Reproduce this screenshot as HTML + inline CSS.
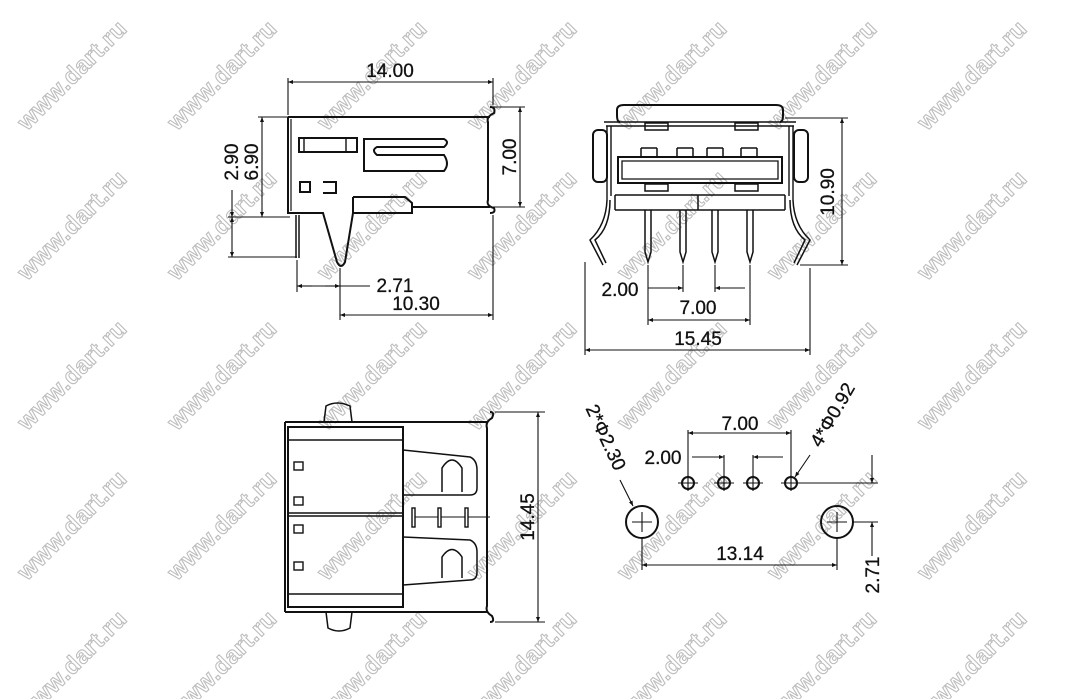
<!DOCTYPE html>
<html><head><meta charset="utf-8"><style>
html,body{margin:0;padding:0;background:#fff;}
svg{display:block;}
.wm{font-family:"Liberation Sans",sans-serif;font-weight:bold;font-size:24px;fill:#fff;stroke:#bdbdbd;stroke-width:1.1;letter-spacing:0.5px;}
.t{font-family:"Liberation Sans",sans-serif;font-size:19px;fill:#111;stroke:#111;stroke-width:0.3;}
</style></head><body>
<svg width="1081" height="699" viewBox="0 0 1081 699" xmlns="http://www.w3.org/2000/svg">
<defs>
<marker id="a" viewBox="0 0 10 10" refX="10" refY="5" markerWidth="9" markerHeight="5" orient="auto-start-reverse" markerUnits="userSpaceOnUse"><path d="M0,1 L10,5 L0,9z" fill="#111"/></marker>
</defs>
<g>
<text class="wm" transform="translate(72,75) rotate(-45)" text-anchor="middle" dy="8">www.dart.ru</text>
<text class="wm" transform="translate(222,75) rotate(-45)" text-anchor="middle" dy="8">www.dart.ru</text>
<text class="wm" transform="translate(372,75) rotate(-45)" text-anchor="middle" dy="8">www.dart.ru</text>
<text class="wm" transform="translate(522,75) rotate(-45)" text-anchor="middle" dy="8">www.dart.ru</text>
<text class="wm" transform="translate(672,75) rotate(-45)" text-anchor="middle" dy="8">www.dart.ru</text>
<text class="wm" transform="translate(822,75) rotate(-45)" text-anchor="middle" dy="8">www.dart.ru</text>
<text class="wm" transform="translate(972,75) rotate(-45)" text-anchor="middle" dy="8">www.dart.ru</text>
<text class="wm" transform="translate(72,225) rotate(-45)" text-anchor="middle" dy="8">www.dart.ru</text>
<text class="wm" transform="translate(222,225) rotate(-45)" text-anchor="middle" dy="8">www.dart.ru</text>
<text class="wm" transform="translate(372,225) rotate(-45)" text-anchor="middle" dy="8">www.dart.ru</text>
<text class="wm" transform="translate(522,225) rotate(-45)" text-anchor="middle" dy="8">www.dart.ru</text>
<text class="wm" transform="translate(672,225) rotate(-45)" text-anchor="middle" dy="8">www.dart.ru</text>
<text class="wm" transform="translate(822,225) rotate(-45)" text-anchor="middle" dy="8">www.dart.ru</text>
<text class="wm" transform="translate(972,225) rotate(-45)" text-anchor="middle" dy="8">www.dart.ru</text>
<text class="wm" transform="translate(72,375) rotate(-45)" text-anchor="middle" dy="8">www.dart.ru</text>
<text class="wm" transform="translate(222,375) rotate(-45)" text-anchor="middle" dy="8">www.dart.ru</text>
<text class="wm" transform="translate(372,375) rotate(-45)" text-anchor="middle" dy="8">www.dart.ru</text>
<text class="wm" transform="translate(522,375) rotate(-45)" text-anchor="middle" dy="8">www.dart.ru</text>
<text class="wm" transform="translate(672,375) rotate(-45)" text-anchor="middle" dy="8">www.dart.ru</text>
<text class="wm" transform="translate(822,375) rotate(-45)" text-anchor="middle" dy="8">www.dart.ru</text>
<text class="wm" transform="translate(972,375) rotate(-45)" text-anchor="middle" dy="8">www.dart.ru</text>
<text class="wm" transform="translate(72,525) rotate(-45)" text-anchor="middle" dy="8">www.dart.ru</text>
<text class="wm" transform="translate(222,525) rotate(-45)" text-anchor="middle" dy="8">www.dart.ru</text>
<text class="wm" transform="translate(372,525) rotate(-45)" text-anchor="middle" dy="8">www.dart.ru</text>
<text class="wm" transform="translate(522,525) rotate(-45)" text-anchor="middle" dy="8">www.dart.ru</text>
<text class="wm" transform="translate(672,525) rotate(-45)" text-anchor="middle" dy="8">www.dart.ru</text>
<text class="wm" transform="translate(822,525) rotate(-45)" text-anchor="middle" dy="8">www.dart.ru</text>
<text class="wm" transform="translate(972,525) rotate(-45)" text-anchor="middle" dy="8">www.dart.ru</text>
<text class="wm" transform="translate(72,665) rotate(-45)" text-anchor="middle" dy="8">www.dart.ru</text>
<text class="wm" transform="translate(222,665) rotate(-45)" text-anchor="middle" dy="8">www.dart.ru</text>
<text class="wm" transform="translate(372,665) rotate(-45)" text-anchor="middle" dy="8">www.dart.ru</text>
<text class="wm" transform="translate(522,665) rotate(-45)" text-anchor="middle" dy="8">www.dart.ru</text>
<text class="wm" transform="translate(672,665) rotate(-45)" text-anchor="middle" dy="8">www.dart.ru</text>
<text class="wm" transform="translate(822,665) rotate(-45)" text-anchor="middle" dy="8">www.dart.ru</text>
<text class="wm" transform="translate(972,665) rotate(-45)" text-anchor="middle" dy="8">www.dart.ru</text>
</g>

<g fill="none" stroke="#111" stroke-width="2">
<path d="M288,117 H490"/>
<path d="M288,117 V213 H323 L337,262 Q341,270 345,262 L353,213 V197"/>
<path d="M291,119 V211" stroke-width="1.2"/>
<path d="M353,197 H405 L412,203 V213 H353"/>
<path d="M412,207 H490"/>
<path d="M490,107 Q496,107 494,113 Q486,117 488,122 V200 Q486,206 494,208 Q496,213 490,213" />
<path d="M296,215 V258 M299,215 V258" stroke-width="1.5"/>
<rect x="299" y="138" width="58" height="14"/>
<path d="M304,138 V152 M346,138 V152" stroke-width="1.4"/>
<path d="M364,139 H444 Q450,142 444,147 H377 Q371,150 377,155 H444 Q450,164 444,171 H364 Z"/>
<rect x="300" y="182" width="10" height="10"/>
<path d="M323,182 H336 V193 H323"/>
<path d="M288,78 V115 M493,78 V105" stroke-width="1.1"/>
<path d="M288,82 H493" stroke-width="1.1" marker-start="url(#a)" marker-end="url(#a)"/>
<path d="M258,117 H288 M228,217 H290 M228,257 H297" stroke-width="1.1"/>
<path d="M262,117 V217" stroke-width="1.1" marker-start="url(#a)" marker-end="url(#a)"/>
<path d="M232,190 V217" stroke-width="1.1" marker-end="url(#a)"/>
<path d="M232,217 V257" stroke-width="1.1" marker-start="url(#a)" marker-end="url(#a)"/>
<path d="M297,260 V292 M340,268 V320 M493,215 V320" stroke-width="1.1"/>
<path d="M297,286 H370" stroke-width="1.1"/>
<path d="M312,286 H297" stroke-width="1.1" marker-end="url(#a)"/>
<path d="M325,286 H340" stroke-width="1.1" marker-end="url(#a)"/>
<path d="M340,315 H493" stroke-width="1.1" marker-start="url(#a)" marker-end="url(#a)"/>
<path d="M493,107 H525 M493,207 H525" stroke-width="1.1"/>
<path d="M520,107 V207" stroke-width="1.1" marker-start="url(#a)" marker-end="url(#a)"/>

<path d="M620,122 Q617,122 617,115 V110 Q617,105 624,105 H776 Q783,105 783,110 V115 Q783,122 780,122"/>
<path d="M604,122 H796 M606,126 H794" stroke-width="1.4"/>
<path d="M607,126 V200 M793,126 V200 M611,126 V196 M789,126 V196" stroke-width="1.4"/>
<rect x="593" y="130" width="14" height="52" rx="5"/>
<rect x="794" y="130" width="14" height="52" rx="5"/>
<rect x="618" y="157" width="164" height="26"/>
<path d="M622,161 H778 V179 H622 Z" stroke-width="1.3"/>
<path d="M641,148 V157 M657,148 V157 M641,148 H657 M677,148 H693 M677,148 V157 M693,148 V157 M707,148 H723 M707,148 V157 M723,148 V157 M741,148 H757 M741,148 V157 M757,148 V157" stroke-width="1.5"/>
<rect x="645" y="123" width="23" height="7" stroke-width="1.5"/>
<rect x="735" y="123" width="23" height="7" stroke-width="1.5"/>
<rect x="645" y="184" width="23" height="7" stroke-width="1.5"/>
<rect x="735" y="184" width="23" height="7" stroke-width="1.5"/>
<path d="M615,195 H785 M615,210 H785 M615,195 V210 M785,195 V210 M698,195 V210" stroke-width="1.5"/>
<path d="M645,210 V252 L648,262 L651,252 V210 M680,210 V252 L683,262 L686,252 V210 M712,210 V252 L715,262 L718,252 V210 M747,210 V252 L750,262 L753,252 V210" stroke-width="1.5"/>
<path d="M607,200 Q606,225 590,240 L603,265 M610,200 Q610,228 595,240 L606,263" stroke-width="1.5"/>
<path d="M793,200 Q794,225 810,240 L797,265 M790,200 Q790,228 805,240 L794,263" stroke-width="1.5"/>
<path d="M785,118 H848 M800,265 H848" stroke-width="1.1"/>
<path d="M842,118 V265" stroke-width="1.1" marker-start="url(#a)" marker-end="url(#a)"/>
<path d="M648,265 V325 M683,265 V292 M715,265 V292 M750,265 V325 M585,262 V355 M810,268 V355" stroke-width="1.1"/>
<path d="M648,288 H683" stroke-width="1.1" marker-end="url(#a)"/>
<path d="M745,288 H715" stroke-width="1.1" marker-end="url(#a)"/>
<path d="M648,320 H750" stroke-width="1.1" marker-start="url(#a)" marker-end="url(#a)"/>
<path d="M585,350 H810" stroke-width="1.1" marker-start="url(#a)" marker-end="url(#a)"/>

<path d="M285,422 H488 M285,612 H488 M285,422 V612" />
<rect x="288" y="427" width="115" height="180"/>
<path d="M288,440 H403 M288,513 H403 M288,516 H403 M288,594 H403" stroke-width="1.4"/>
<rect x="294" y="462" width="9" height="8" stroke-width="1.4"/>
<rect x="294" y="497" width="9" height="8" stroke-width="1.4"/>
<rect x="294" y="525" width="9" height="8" stroke-width="1.4"/>
<rect x="294" y="562" width="9" height="8" stroke-width="1.4"/>
<path d="M324,422 L326,406 Q337,400 350,406 L352,422 M326,612 L328,628 Q339,634 350,628 L352,612" stroke-width="1.5"/>
<path d="M403,450 L470,457 Q477,460 477,470 V488 Q477,495 470,495 L403,495 M442,492 V468 Q452,452 462,468 V492" stroke-width="1.5"/>
<path d="M403,537 L470,540 Q477,543 477,552 V572 Q477,580 470,580 L403,585 M442,578 V557 Q452,542 462,557 V578" stroke-width="1.5"/>
<rect x="412" y="508" width="3" height="19" stroke-width="1.4"/>
<rect x="438" y="508" width="3" height="19" stroke-width="1.4"/>
<rect x="465" y="508" width="3" height="19" stroke-width="1.4"/>
<path d="M415,517 H438 M441,517 H465 M468,517 H490" stroke-width="1.1"/>
<path d="M490,412 Q495,412 492,418 Q485,422 487,428 V606 Q485,612 492,616 Q495,622 490,622"/>
<path d="M495,412 H545 M495,622 H545" stroke-width="1.1"/>
<path d="M538,412 V622" stroke-width="1.1" marker-start="url(#a)" marker-end="url(#a)"/>

<circle cx="688" cy="483" r="6"/><circle cx="724" cy="483" r="6"/><circle cx="753" cy="483" r="6"/><circle cx="791" cy="483" r="6"/>
<path d="M678,483 H698 M688,475 V491 M714,483 H734 M724,475 V491 M743,483 H763 M753,475 V491 M781,483 H801 M791,475 V491" stroke-width="1.1"/>
<circle cx="642" cy="522" r="16"/><circle cx="837" cy="522" r="16"/>
<path d="M632,522 H652 M642,512 V532 M827,522 H847 M837,512 V532" stroke-width="1.1"/>
<path d="M688,430 V477 M791,430 V477 M724,455 V477 M753,455 V477 M642,538 V570 M837,538 V570" stroke-width="1.1"/>
<path d="M688,433 H791" stroke-width="1.1" marker-start="url(#a)" marker-end="url(#a)"/>
<path d="M692,457 H724" stroke-width="1.1" marker-end="url(#a)"/>
<path d="M783,457 H753" stroke-width="1.1" marker-end="url(#a)"/>
<path d="M642,565 H837" stroke-width="1.1" marker-start="url(#a)" marker-end="url(#a)"/>
<path d="M797,483 H878 M853,522 H878" stroke-width="1.1"/>
<path d="M872,455 V483" stroke-width="1.1" marker-end="url(#a)"/>
<path d="M872,556 V522" stroke-width="1.1" marker-end="url(#a)"/>
<path d="M620,480 L633,506" stroke-width="1.1" marker-end="url(#a)"/>
<path d="M810,455 L795,477" stroke-width="1.1" marker-end="url(#a)"/>
</g>

<g class="t">
<text x="390" y="77" text-anchor="middle">14.00</text>
<text transform="translate(238,162) rotate(-90)" text-anchor="middle">2.90</text>
<text transform="translate(258,162) rotate(-90)" text-anchor="middle">6.90</text>
<text transform="translate(516,157) rotate(-90)" text-anchor="middle">7.00</text>
<text x="395" y="292" text-anchor="middle">2.71</text>
<text x="416" y="310" text-anchor="middle">10.30</text>
<text transform="translate(834,192) rotate(-90)" text-anchor="middle">10.90</text>
<text x="620" y="296" text-anchor="middle">2.00</text>
<text x="698" y="314" text-anchor="middle">7.00</text>
<text x="698" y="345" text-anchor="middle">15.45</text>
<text transform="translate(534,517) rotate(-90)" text-anchor="middle">14.45</text>
<text x="740" y="430" text-anchor="middle">7.00</text>
<text x="663" y="464" text-anchor="middle">2.00</text>
<text x="740" y="560" text-anchor="middle">13.14</text>
<text transform="translate(879,575) rotate(-90)" text-anchor="middle">2.71</text>
<text transform="translate(600,440) rotate(65)" text-anchor="middle">2*Φ2.30</text>
<text transform="translate(838,418) rotate(-60)" text-anchor="middle">4*Φ0.92</text>
</g>
</svg>
</body></html>
